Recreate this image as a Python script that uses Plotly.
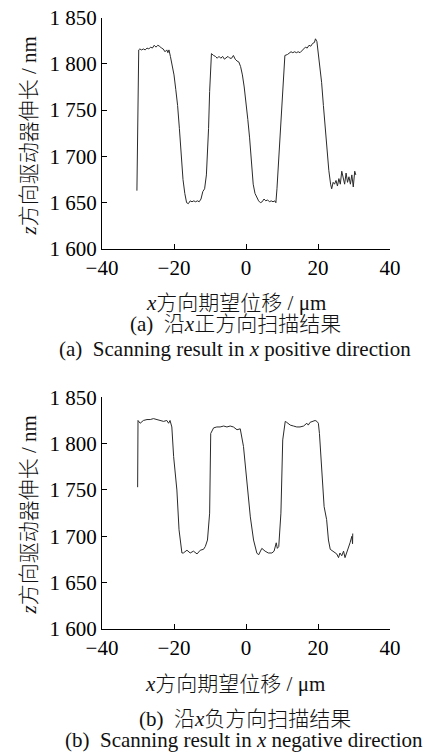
import plotly.graph_objects as go

# ---------------- data ----------------
x_pos = [-30.3, -30.25, -30.1, -29.8, -29.5, -29.0, -28.5, -28.0, -27.5, -27.0, -26.5, -26.0, -25.5, -25.0,
         -24.5, -24.0, -23.5, -23.0, -22.5, -22.0, -21.7, -21.4, -21.0, -20.5, -20.0, -19.5, -19.0, -18.5,
         -18.0, -17.5, -17.0, -16.5, -16.0, -15.5, -15.0, -14.5, -14.0, -13.5, -13.0, -12.5, -12.0, -11.5,
         -11.0, -10.7, -10.4, -10.1, -9.8, -9.6, -9.0, -8.5, -8.0, -7.5, -7.0, -6.5, -6.0, -5.5, -5.0, -4.5,
         -4.0, -3.5, -3.0, -2.5, -2.0, -1.5, -1.0, -0.5, 0.0, 0.5, 1.0, 1.5, 2.0, 2.5, 3.0, 3.5, 4.0, 4.5,
         5.0, 5.5, 6.0, 6.5, 7.0, 7.5, 8.0, 8.3, 8.6, 9.0, 9.5, 10.0, 10.5, 10.8, 11.5, 12.0, 12.5, 13.0,
         13.5, 14.0, 14.5, 15.0, 15.5, 16.0, 16.5, 17.0, 17.5, 18.0, 18.5, 19.0, 19.3, 19.7, 20.0, 20.5,
         21.0, 21.5, 22.0, 22.5, 23.0, 23.5, 23.8, 24.2, 24.6, 25.0, 25.4, 25.8, 26.2, 26.6, 27.0, 27.4,
         27.8, 28.2, 28.6, 29.0, 29.4, 29.8, 30.2, 30.5]
z_pos = [1663, 1682, 1765, 1815, 1816, 1815, 1816, 1815, 1817, 1816, 1818, 1817, 1820, 1818,
         1820, 1819, 1817, 1816, 1813, 1815, 1812, 1815, 1808, 1798, 1788, 1772, 1755, 1730,
         1700, 1675, 1660, 1650, 1649, 1652, 1651, 1652, 1651, 1652, 1651, 1654, 1662, 1665,
         1680, 1700, 1730, 1770, 1800, 1811, 1809, 1808, 1806, 1808, 1806, 1808, 1805, 1807, 1808, 1806,
         1806, 1809, 1805, 1803, 1802, 1797, 1788, 1775, 1760, 1740, 1720, 1695, 1670, 1660, 1655, 1652, 1650, 1651,
         1654, 1652, 1653, 1651, 1652, 1651, 1652, 1650, 1665, 1690, 1730, 1765, 1795, 1809, 1810, 1812, 1813, 1812,
         1813, 1812, 1813, 1812, 1814, 1816, 1818, 1817, 1820, 1819, 1822, 1823, 1827, 1824, 1815, 1800,
         1780, 1755, 1730, 1705, 1685, 1670, 1665, 1672, 1670, 1674, 1668, 1676, 1670, 1684, 1678, 1670,
         1682, 1672, 1678, 1670, 1680, 1667, 1684, 1680]

x_neg = [-30.1, -30.05, -30.0, -29.4, -28.5, -27.5, -26.6, -25.7, -24.8, -23.8, -22.9, -22.0, -21.5, -21.1,
         -20.6, -20.1, -19.2, -18.6, -17.8, -17.4, -16.4, -15.5, -14.6, -13.6, -12.7, -11.8, -11.3, -10.7,
         -10.1, -9.8, -9.0, -8.1, -7.2, -6.2, -5.3, -4.4, -3.5, -2.5, -1.6, -0.7, 0.2, 1.2, 2.1, 3.0, 3.5,
         4.4, 5.3, 6.2, 7.2, 7.8, 8.4, 8.7, 9.1, 9.7, 10.2, 10.9, 11.3, 12.3, 13.2, 14.1, 15.0, 16.0, 16.9,
         17.3, 17.8, 18.7, 19.2, 19.7, 20.1, 20.4, 21.0, 21.7, 22.4, 22.9, 23.4, 24.3, 25.2, 25.7, 26.1,
         26.6, 27.1, 27.5, 28.0, 28.5, 28.9, 29.4, 29.6, 29.65]
z_neg = [1753, 1802, 1825, 1822, 1825, 1826, 1826, 1827, 1826, 1825, 1824, 1825, 1822, 1825,
         1818, 1786, 1750, 1707, 1682, 1682, 1685, 1682, 1684, 1681, 1685, 1686, 1689, 1696,
         1725, 1811, 1817, 1818, 1818, 1819, 1818, 1819, 1818, 1815, 1816, 1797, 1761, 1721, 1696, 1682, 1680,
         1687, 1684, 1682, 1682, 1684, 1693, 1687, 1689, 1725, 1804, 1824, 1823, 1820, 1819, 1818, 1818, 1819, 1822,
         1820, 1823, 1824, 1825, 1824, 1822, 1811, 1779, 1732, 1718, 1696, 1686, 1683, 1681, 1677, 1682,
         1679, 1684, 1677, 1682, 1689, 1693, 1700, 1692, 1703]

x_ticks = [-40, -20, 0, 20, 40]
x_ticktext = ["\u221240", "\u221220", "0", "20", "40"]
y_ticks = [1600, 1650, 1700, 1750, 1800, 1850]
y_ticktext = ["1 600", "1 650", "1 700", "1 750", "1 800", "1 850"]

# ---------------- figure ----------------
W, H = 425, 756
FONT = "Liberation Serif, Noto Sans CJK SC, serif"
LINE = "#2a2a2a"
FS = 21

fig = go.Figure()
fig.add_trace(go.Scatter(x=x_pos, y=z_pos, mode="lines", line=dict(color=LINE, width=1),
                         xaxis="x", yaxis="y", showlegend=False, hoverinfo="skip"))
fig.add_trace(go.Scatter(x=x_neg, y=z_neg, mode="lines", line=dict(color=LINE, width=1),
                         xaxis="x2", yaxis="y2", showlegend=False, hoverinfo="skip"))

xdom = [102 / W, 390 / W]
top_dom = [1 - 249 / H, 1 - 17.5 / H]
bot_dom = [1 - 629 / H, 1 - 397.3 / H]

common_x = dict(range=[-40, 40], tickvals=x_ticks, ticktext=x_ticktext, ticks="inside", ticklen=5,
                tickwidth=1.2, tickcolor="black", showline=True, linecolor="black", linewidth=1.3,
                showgrid=False, zeroline=False, domain=xdom, fixedrange=True, automargin=False,
                tickfont=dict(family=FONT, size=FS, color="black"))
common_y = dict(range=[1600, 1850], tickvals=y_ticks, ticktext=y_ticktext, ticks="inside", ticklen=5,
                tickwidth=1.2, tickcolor="black", showline=True, linecolor="black", linewidth=1.3,
                showgrid=False, zeroline=False, fixedrange=True, automargin=False,
                tickfont=dict(family=FONT, size=FS, color="black"))

fig.update_layout(
    width=W, height=H,
    margin=dict(l=0, r=0, t=0, b=0, autoexpand=False),
    paper_bgcolor="white", plot_bgcolor="white",
    xaxis=dict(**common_x, anchor="y"),
    yaxis=dict(**common_y, domain=top_dom, anchor="x"),
    xaxis2=dict(**common_x, anchor="y2"),
    yaxis2=dict(**common_y, domain=bot_dom, anchor="x2"),
)

def ann(text, xpx, ypx, size=FS, angle=0, xanchor="center"):
    fig.add_annotation(text=text, x=xpx / W, y=1 - ypx / H, xref="paper", yref="paper",
                       xanchor=xanchor, yanchor="middle", showarrow=False, textangle=angle,
                       font=dict(family=FONT, size=size, color="#111111", weight=300))

ann("<i>z</i>方向驱动器伸长 / nm", 28, 136.5, angle=-90)
ann("<i>x</i>方向期望位移 / μm", 236, 303)
ann("(a)  沿<i>x</i>正方向扫描结果", 235, 323.5)
ann("(a)  Scanning result in <i>x</i> positive direction", 235.5, 348.5)

ann("<i>z</i>方向驱动器伸长 / nm", 28, 515.5, angle=-90)
ann("<i>x</i>方向期望位移 / μm", 235, 683.5)
ann("(b)  沿<i>x</i>负方向扫描结果", 245, 718.5)
ann("(b)  Scanning result in <i>x</i> negative direction", 63, 739.5, xanchor="left")

fig.write_html("out.html", config={"displayModeBar": False},
               post_script="document.body.style.margin='0';document.body.style.overflow='hidden';")
